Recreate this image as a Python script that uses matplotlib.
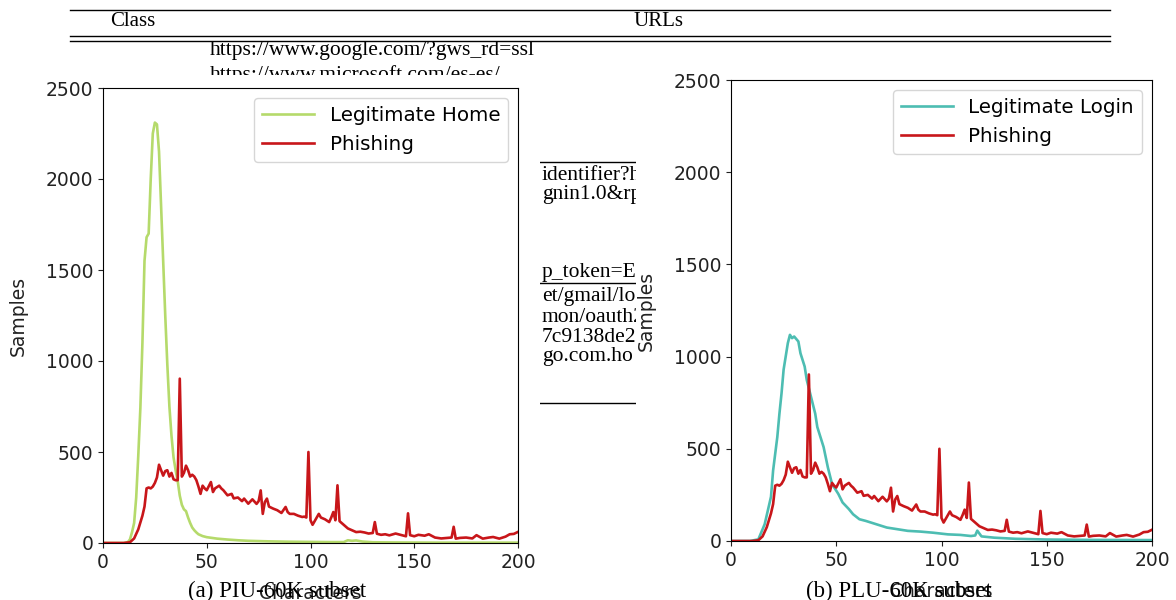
import matplotlib.pyplot as plt
from matplotlib.patches import Rectangle

# Phishing URL length distribution (same in both panels)
phish_x = [0, 10, 13, 15, 17, 19, 20, 21, 22, 23,
           24, 25, 26, 27, 28, 29, 30, 31, 32, 33,
           34, 35, 36, 37, 38, 39, 40, 41, 42, 43,
           44, 45, 46, 47, 48, 49, 50, 52, 53, 54,
           56, 57, 58, 60, 62, 63, 65, 67, 68, 70,
           72, 74, 75, 76, 77, 78, 79, 80, 82, 84,
           86, 88, 89, 90, 92, 94, 96, 97, 98, 99,
           100, 101, 102, 104, 105, 107, 109, 110, 111, 112,
           113, 114, 116, 118, 120, 122, 124, 126, 128, 130,
           131, 132, 134, 136, 138, 141, 144, 146, 147, 148,
           150, 152, 155, 157, 160, 163, 166, 168, 169, 170,
           172, 175, 178, 180, 183, 186, 188, 191, 194, 196,
           198, 200]
phish_y = [0, 0, 4, 25, 75, 150, 200, 300, 305, 300,
           310, 330, 360, 430, 400, 370, 395, 400, 365, 385,
           350, 345, 345, 903, 365, 385, 425, 400, 365, 375,
           365, 345, 310, 270, 315, 300, 290, 335, 280, 300,
           315, 300, 290, 262, 270, 245, 250, 230, 244, 216,
           240, 215, 230, 289, 160, 225, 244, 200, 189, 180,
           165, 198, 170, 160, 160, 150, 143, 145, 140, 500,
           125, 100, 120, 160, 140, 130, 115, 140, 170, 125,
           317, 120, 100, 80, 70, 60, 62, 58, 52, 55,
           115, 51, 45, 48, 42, 52, 43, 37, 163, 43,
           37, 45, 40, 48, 30, 25, 28, 30, 89, 24,
           28, 30, 25, 43, 24, 30, 33, 24, 35, 48,
           50, 61]

# Legitimate home pages (PIU-60K)
home_x = [0, 10, 12, 13, 14, 15, 16, 17, 18, 19,
          20, 21, 22, 23, 24, 25, 26, 27, 28, 29,
          30, 31, 32, 33, 34, 35, 36, 37, 38, 39,
          40, 41, 42, 43, 44, 45, 46, 48, 50, 55,
          60, 65, 70, 80, 90, 100, 110, 116, 118, 120,
          122, 125, 130, 140, 160, 180, 200]
home_y = [0, 0, 5, 20, 60, 110, 250, 480, 740, 1100,
          1550, 1680, 1700, 2000, 2250, 2310, 2300, 2150, 1850, 1550,
          1250, 980, 750, 590, 470, 400, 340, 260, 210, 185,
          175, 140, 110, 85, 70, 58, 48, 38, 32, 24,
          19, 15, 12, 9, 7, 6, 5, 5, 15, 12,
          14, 8, 4, 3, 2, 2, 2]

# Legitimate login pages (PLU-60K)
login_x = [0, 9, 13, 16, 19, 20, 22, 23, 24, 25,
           27, 28, 29, 30, 32, 33, 35, 36, 38, 40,
           41, 44, 46, 48, 51, 53, 56, 58, 61, 64,
           69, 74, 79, 84, 90, 96, 103, 109, 114, 116,
           117, 119, 125, 135, 150, 170, 200]
login_y = [0, 0, 9, 91, 240, 382, 564, 690, 800, 930,
           1073, 1118, 1100, 1109, 1082, 1018, 946, 873, 782, 691,
           618, 509, 400, 309, 255, 209, 173, 145, 118, 109,
           91, 73, 64, 55, 51, 45, 36, 33, 27, 30,
           56, 25, 18, 12, 8, 6, 5]

# table fragments showing through behind the panels
url_rows = ["https://www.google.com/?gws_rd=ssl",
            "https://www.microsoft.com/es-es/"]
mid_rows = ["identifier?hl", "gnin1.0&rp", "p_token=E", "et/gmail/lo",
            "mon/oauth2", "7c9138de23", "go.com.ho"]

W, H = 1176, 600
fig = plt.figure(figsize=(W / 100, H / 100), dpi=100)

# background layer in pixel coordinates
bg = fig.add_axes([0, 0, 1, 1])
bg.set_xlim(0, W)
bg.set_ylim(H, 0)
bg.axis("off")
serif = "Liberation Serif"
for y in [10, 36, 41, 162, 283, 403]:
    bg.plot([70, 1110], [y, y], color="black", lw=1.0, zorder=2)
bg.text(133, 21, "Class", family=serif, fontsize=15, ha="center", va="center")
bg.text(659, 21, "URLs", family=serif, fontsize=15, ha="center", va="center")
for s, y in zip(url_rows, [50, 75]):
    bg.text(210, y, s, family=serif, fontsize=15.5, va="center", zorder=3)
for s, y in zip(mid_rows, [176, 195, 272, 297, 317, 337, 357]):
    bg.text(542, y, s, family=serif, fontsize=15.5, va="center", zorder=3)
# white panels of the two sub-figures
bg.add_patch(Rectangle((0, 75), 540, H - 75, facecolor="white", edgecolor="none", zorder=5))
bg.add_patch(Rectangle((636, 62), W - 636, H - 62, facecolor="white", edgecolor="none", zorder=5))

ax1 = fig.add_axes([103 / W, 1 - 543 / H, 415 / W, 455 / H])
ax2 = fig.add_axes([731 / W, 1 - 541 / H, 421 / W, 461 / H])

ax1.plot(home_x, home_y, color="#b5da6b", lw=1.9, label="Legitimate Home")
ax1.plot(phish_x, phish_y, color="#c8161a", lw=1.9, label="Phishing")
ax2.plot(login_x, login_y, color="#4dbdb2", lw=1.9, label="Legitimate Login")
ax2.plot(phish_x, phish_y, color="#c8161a", lw=1.9, label="Phishing")

for ax in (ax1, ax2):
    ax.set_xlim(0, 200)
    ax.set_ylim(0, 2500)
    ax.set_xticks([0, 50, 100, 150, 200])
    ax.set_yticks([0, 500, 1000, 1500, 2000, 2500])
    ax.tick_params(labelsize=13.5, colors="#222222")
    ax.set_xlabel("Characters", fontsize=13.5, color="#222222", labelpad=9)
    ax.set_ylabel("Samples", fontsize=13.5, color="#222222", labelpad=13)
    ax.legend(loc="upper right", fontsize=14.3, handlelength=2.6)

fig.text(277 / W, 1 - 597 / H, "(a) PIU-60K subset", family=serif, fontsize=16.5,
         ha="center", va="baseline")
fig.text(899 / W, 1 - 597 / H, "(b) PLU-60K subset", family=serif, fontsize=16.5,
         ha="center", va="baseline")

plt.savefig("out.png", dpi=100)
